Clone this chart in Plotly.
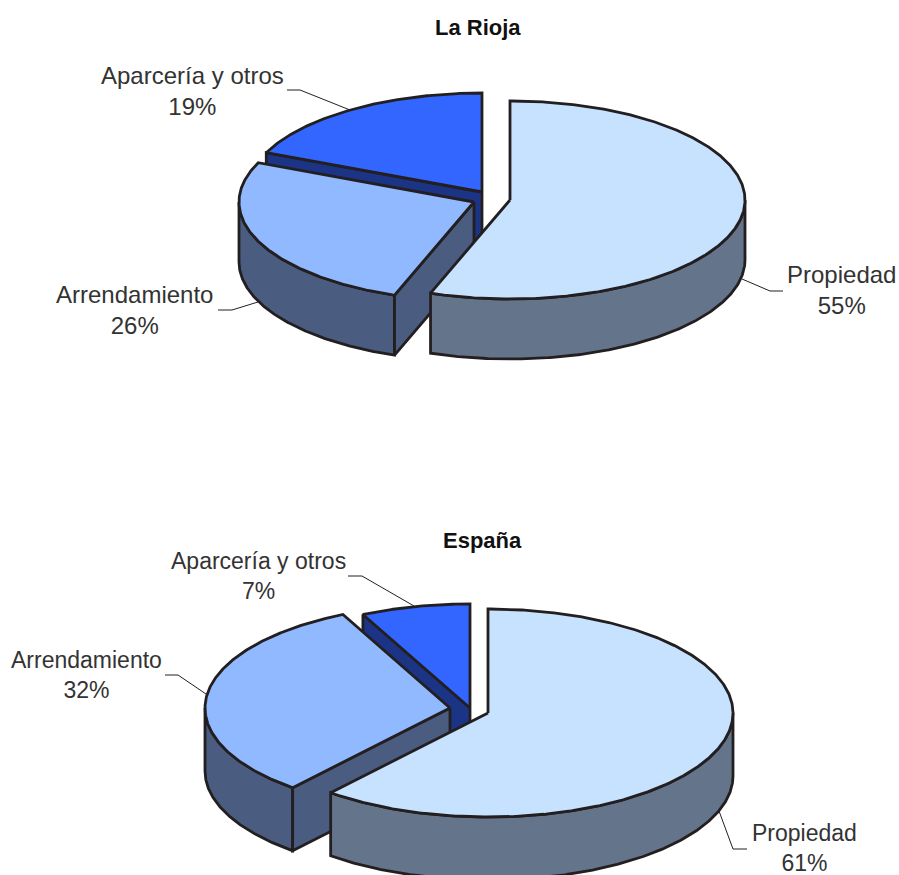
import numpy as np
import plotly.graph_objects as go

# ---- data ----
categories = ["Propiedad", "Arrendamiento", "Aparcería y otros"]
rioja_values = [55.49, 26.0, 18.51]
espana_values = [61.1, 31.7, 7.2]
titles = ["La Rioja", "España"]

# ---- style ----
top_colors = ["#C6E2FF", "#91B9FF", "#3366FF"]
side_colors = ["#64748A", "#4A5C80", "#1C3485"]
INK = "#231F20"
TEXT = "#333333"
FONT = "Liberation Sans"

# ---- layout: per-pie geometry in page pixels ----
rioja_geo = dict(rx=235, ry=99, depth=60,
                 centers=[(510, 200), (474, 202), (482, 192)])
espana_geo = dict(rx=245, ry=104, depth=63,
                  centers=[(488, 713), (450, 708), (470, 708)])
# label centre, font size, leader polyline
rioja_labels = dict(size=24, items=[
    ((841, 290), [(783, 291), (770, 291), (742, 279)]),
    ((134, 310), [(218, 310), (232, 310), (258, 302)]),
    ((192, 91), [(287, 90), (300, 90), (350, 110)]),
])
espana_labels = dict(size=23, items=[
    ((804, 848), [(747, 849), (733, 849), (719, 811)]),
    ((86, 675), [(165, 675), (178, 675), (206, 694)]),
    ((258, 576), [(348, 576), (362, 576), (414, 606)]),
])
title_pos = [(478, 27), (482, 540)]


def arc(c, rx, ry, a, b, dy=0):
    t = np.radians(np.linspace(a, b, max(2, int(abs(b - a) * 2) + 1)))
    return c[0] + rx * np.sin(t), c[1] - ry * np.cos(t) + dy


def poly(fig, x, y, fill):
    fig.add_trace(go.Scatter(
        x=list(x) + [x[0]], y=list(y) + [y[0]], mode="lines", fill="toself",
        fillcolor=fill, line=dict(color=INK, width=2.8, shape="linear"),
        hoverinfo="skip", showlegend=False))


def radial_face(fig, c, rx, ry, depth, ang, fill):
    ex, ey = arc(c, rx, ry, ang, ang)
    px, py = ex[0], ey[0]
    poly(fig, [c[0], px, px, c[0]], [c[1], py, py + depth, c[1] + depth], fill)


def draw_pie(fig, values, geo):
    rx, ry, depth = geo["rx"], geo["ry"], geo["depth"]
    total = sum(values)
    edges = np.concatenate([[0], np.cumsum(values)]) / total * 360
    # back slices first, so that the first slice ends up in front
    for i in range(len(values) - 1, -1, -1):
        a, b = edges[i], edges[i + 1]
        c = geo["centers"][i]
        side = side_colors[i]
        # outer wall: only the front half of the rim shows
        wa, wb = max(a, 90), min(b, 270)
        if wb > wa:
            x1, y1 = arc(c, rx, ry, wa, wb)
            x2, y2 = arc(c, rx, ry, wb, wa, depth)
            poly(fig, np.r_[x1, x2], np.r_[y1, y2], side)
        # cut faces that turn towards the viewer
        if np.sin(np.radians(a)) < -1e-6:
            radial_face(fig, c, rx, ry, depth, a, side)
        if np.sin(np.radians(b)) > 1e-6:
            radial_face(fig, c, rx, ry, depth, b, side)
        # top
        x, y = arc(c, rx, ry, a, b)
        poly(fig, np.r_[c[0], x], np.r_[c[1], y], top_colors[i])


def draw_labels(fig, values, spec):
    for cat, v, (pos, leader) in zip(categories, values, spec["items"]):
        fig.add_trace(go.Scatter(
            x=[p[0] for p in leader], y=[p[1] for p in leader], mode="lines",
            line=dict(color=INK, width=1), hoverinfo="skip", showlegend=False))
        fig.add_annotation(
            x=pos[0], y=pos[1], text=f"{cat}<br>{v:.0f}%", showarrow=False,
            xanchor="center", yanchor="middle", align="center",
            font=dict(family=FONT, size=spec["size"], color=TEXT))


fig = go.Figure()
for values, geo, spec in [(rioja_values, rioja_geo, rioja_labels),
                          (espana_values, espana_geo, espana_labels)]:
    draw_labels(fig, values, spec)
    draw_pie(fig, values, geo)

for t, pos in zip(titles, title_pos):
    fig.add_annotation(x=pos[0], y=pos[1], text=f"<b>{t}</b>", showarrow=False,
                       xanchor="center", yanchor="middle",
                       font=dict(family=FONT, size=22, color="#111111"))

fig.update_layout(
    width=899, height=875, margin=dict(l=0, r=0, t=0, b=0),
    paper_bgcolor="white", plot_bgcolor="white", showlegend=False,
    xaxis=dict(range=[0, 899], visible=False, fixedrange=True),
    yaxis=dict(range=[875, 0], visible=False, fixedrange=True),
)
fig.write_html("out.html", config={"displayModeBar": False},
               post_script="document.body.style.margin='0';"
                           "document.body.style.overflow='hidden';")
